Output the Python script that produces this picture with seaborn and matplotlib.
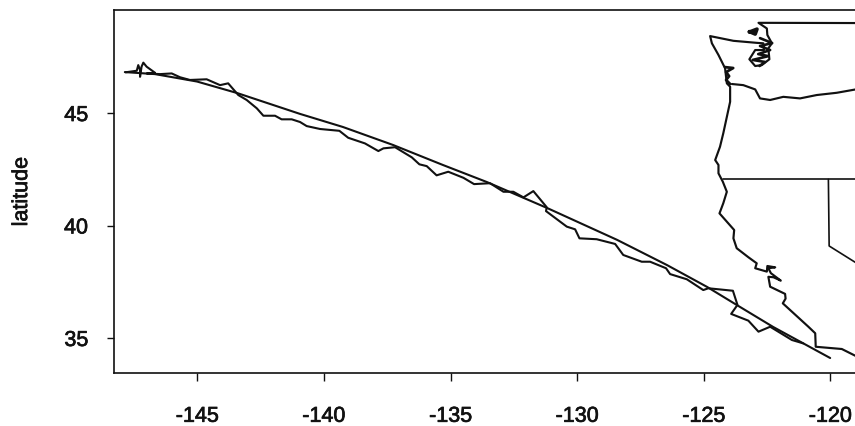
import matplotlib
matplotlib.use('Agg')
import matplotlib.pyplot as plt
import matplotlib.patheffects as pe
import seaborn as sns

# great circle route
route_lon = [-147.86, -146.67, -145.01, -143.43, -140.94, -139.25, -137.27, -135.30,
             -133.56, -131.19, -128.42, -126.45, -124.87, -123.57, -122.26, -120.01]
route_lat = [46.82, 46.73, 46.40, 45.89, 44.96, 44.38, 43.58, 42.69,
             41.93, 40.78, 39.36, 38.24, 37.27, 36.38, 35.49, 34.11]

# ship track
track_lon = [-147.83, -147.39, -147.33, -147.26, -147.26, -147.20, -147.13, -147.00, -146.67,
             -147.00, -146.47, -146.01, -145.68, -145.29, -144.63, -144.10, -143.78, -143.38,
             -143.05, -142.65, -142.39, -141.93, -141.67, -141.27, -140.94, -140.68, -140.15,
             -139.39, -139.04, -138.38, -137.85, -137.65, -137.19, -136.53, -136.23, -135.94,
             -135.55, -135.09, -134.49, -134.07, -133.44, -132.91, -132.52, -132.12, -131.73,
             -131.20, -131.23, -130.41, -130.08, -129.91, -129.23, -128.50, -128.18, -127.45,
             -127.12, -126.49, -126.33, -125.67, -125.02, -124.82, -123.85, -123.67, -123.92,
             -123.24, -122.84, -122.38, -121.52, -121.07]
track_lat = [46.81, 46.88, 47.13, 46.91, 46.61, 47.06, 47.24, 47.06, 46.79,
             46.76, 46.73, 46.76, 46.59, 46.47, 46.50, 46.24, 46.32, 45.80,
             45.58, 45.21, 44.88, 44.88, 44.72, 44.72, 44.60, 44.42, 44.29,
             44.21, 43.90, 43.65, 43.31, 43.43, 43.48, 43.03, 42.72, 42.64,
             42.23, 42.39, 42.12, 41.84, 41.88, 41.50, 41.50, 41.25, 41.53,
             40.81, 40.64, 39.95, 39.83, 39.43, 39.39, 39.18, 38.69, 38.39,
             38.39, 38.10, 37.84, 37.61, 37.13, 37.21, 37.10, 36.47, 36.07,
             35.77, 35.28, 35.50, 34.91, 34.76]

# west coast, north to south, starts at the canadian border
coast_lon = [-119.0, -122.84, -122.51, -122.49, -122.31, -122.45, -122.41, -122.71, -122.97,
             -123.20, -122.97, -122.62, -122.65, -122.91, -123.83, -124.75, -124.68, -124.42,
             -124.16, -124.09, -123.96, -123.96, -124.23, -124.36, -124.55, -124.42, -124.42,
             -124.25, -124.09, -124.23, -124.38, -124.09, -123.80, -123.83, -123.70, -123.24,
             -122.91, -122.97, -122.51, -122.49, -122.18, -122.45, -122.35, -121.96, -122.25,
             -122.45, -122.38, -121.79, -121.77, -121.88, -120.87, -120.60, -120.58, -119.55, -119.0]
coast_lat = [49.0, 49.01, 48.76, 48.47, 48.10, 47.88, 47.39, 47.13, 47.09,
             47.39, 47.80, 47.80, 48.10, 48.12, 48.21, 48.42, 48.10, 47.58,
             46.99, 46.32, 46.17, 45.50, 44.10, 43.50, 42.91, 42.69, 42.32,
             41.95, 41.50, 40.99, 40.54, 40.17, 39.80, 39.43, 38.99, 38.59,
             38.32, 38.10, 37.95, 38.20, 38.14, 38.10, 37.88, 37.55, 37.70,
             37.72, 37.28, 36.96, 36.75, 36.54, 35.50, 35.21, 34.61, 34.51, 34.20]

# state lines
wa_or_lon = [-123.89, -123.44, -122.97, -122.78, -122.38, -121.86, -121.20, -120.54, -119.75, -119.0]
wa_or_lat = [46.29, 46.24, 46.05, 45.65, 45.58, 45.72, 45.65, 45.80, 45.90, 46.05]
or_ca_lon = [-124.25, -119.0]
or_ca_lat = [42.05, 42.05]
ca_nv_lon = [-120.08, -120.05, -119.0]
ca_nv_lat = [42.05, 39.09, 38.35]

# scribbly bits of coast
puget_lon = [-122.78, -122.30, -122.78, -122.38, -122.85, -122.45, -123.07, -122.58, -122.80]
puget_lat = [48.33, 48.11, 47.98, 47.80, 47.62, 47.53, 47.36, 47.27, 47.09]
island_lon = [-123.20, -122.90, -122.97, -123.20]
island_lat = [48.60, 48.73, 48.51, 48.62]
harbor_lon = [-124.16, -123.84, -124.12, -124.00, -124.12, -123.96]
harbor_lat = [47.04, 47.00, 46.82, 46.64, 46.47, 46.29]

x_ticks = [-145, -140, -135, -130, -125, -120]
y_ticks = [35, 40, 45]

INK = '#111111'

sns.set_theme(style='ticks')
plt.rcParams['font.family'] = ['Liberation Sans', 'DejaVu Sans']
plt.rcParams['axes.unicode_minus'] = False

fig = plt.figure(figsize=(8.55, 4.26), dpi=100)
ax = fig.add_axes([113.7 / 855, 52.7 / 426, 742.8 / 855, 363.3 / 426])


def draw(lon, lat, lw=1.4):
    sns.lineplot(x=lon, y=lat, sort=False, estimator=None, color=INK, linewidth=lw, ax=ax)


draw(route_lon, route_lat, 1.5)
draw(track_lon, track_lat, 1.5)
draw(coast_lon, coast_lat, 1.55)
draw(wa_or_lon, wa_or_lat, 1.55)
draw(or_ca_lon, or_ca_lat, 1.2)
draw(ca_nv_lon, ca_nv_lat, 1.2)
draw(puget_lon, puget_lat, 1.9)
draw(island_lon, island_lat, 2.6)
draw(harbor_lon, harbor_lat, 2.0)

ax.set_xlim(-148.30, -118.97)
ax.set_ylim(33.43, 49.58)
ax.set_xticks(x_ticks)
ax.set_yticks(y_ticks)
ax.tick_params(axis='x', length=5.4, width=1.0, color=INK, pad=18, labelsize=15.5, labelcolor=INK)
ax.tick_params(axis='y', length=5.4, width=1.0, color=INK, pad=13, labelsize=15.5, labelcolor=INK)
ax.set_ylabel('latitude', fontsize=15.5, color=INK, labelpad=23)
for spine in ax.spines.values():
    spine.set_visible(True)
    spine.set_color(INK)
    spine.set_linewidth(1.2)

# scanned print looks heavier than the plain font
for label in ax.get_xticklabels() + ax.get_yticklabels() + [ax.yaxis.label]:
    label.set_path_effects([pe.withStroke(linewidth=0.5, foreground=INK)])

fig.savefig('out.png', dpi=100)
